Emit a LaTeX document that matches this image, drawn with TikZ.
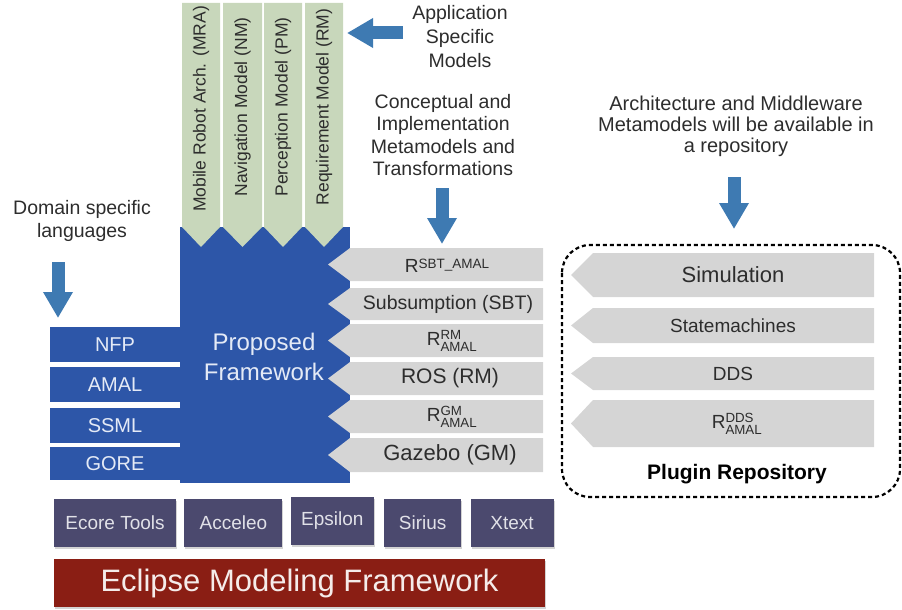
\documentclass[tikz,border=0pt]{standalone}
\usepackage{xcolor}
\usepackage{tikz}
\usepackage{amsmath}
\usepackage{fontspec}
\setmainfont{Liberation Sans}
\usetikzlibrary{arrows.meta, shadows, positioning}

\definecolor{frameblue}{RGB}{45,86,168}
\definecolor{framefont}{RGB}{228,234,246}
\definecolor{modelgreen}{RGB}{200,215,187}
\definecolor{metagrey}{RGB}{213,213,213}
\definecolor{arrowblue}{RGB}{62,122,178}
\definecolor{toolslate}{RGB}{75,73,110}
\definecolor{toolfont}{RGB}{225,225,232}
\definecolor{emfred}{RGB}{138,30,20}
\definecolor{emffont}{RGB}{245,236,234}
\definecolor{inkgrey}{RGB}{45,45,45}

\begin{document}
\begin{tikzpicture}[x=1pt, y=-1pt,
        annot/.style = {align=center, text=inkgrey, font=\fontsize{19.5}{22.5}\selectfont},
        bigarrow/.style = {draw=arrowblue, line width=13pt, -{Triangle[width=28pt, length=26pt]}},
        column/.style = {fill=modelgreen},
        coltext/.style = {rotate=90, text=inkgrey, font=\fontsize{17.5}{20}\selectfont},
        langbox/.style = {fill=frameblue, text=framefont, minimum width=130pt, inner sep=0pt, font=\fontsize{20}{24}\selectfont},
        metaarrow/.style = {fill=metagrey},
        metatext/.style = {text=inkgrey, inner sep=0pt},
        toolbox/.style = {fill=toolslate, text=toolfont, minimum height=48pt, inner sep=0pt, font=\fontsize{19}{22}\selectfont,
            drop shadow={opacity=0.35, shadow xshift=1pt, shadow yshift=-1.5pt}}
    ]

    \useasboundingbox (0,0) rectangle (902,610);

    % annotations
    \node[annot, font=\fontsize{19.5}{24}\selectfont] (appnote) at (460,37) {Application\\Specific\\Models};
    \node[annot] (concnote) at (443,135) {Conceptual and\\Implementation\\Metamodels and\\Transformations};
    \node[annot, font=\fontsize{20}{21}\selectfont] (repnote) at (736,126) {Architecture and Middleware\\Metamodels will be available in\\a repository};
    \node[annot] (dslnote) at (82,221) {Domain specific\\languages};

    \coordinate (appA) at (403,33);
    \coordinate (appB) at (347,33);
    \coordinate (concA) at (442,188);
    \coordinate (concB) at (442,244);
    \coordinate (repA) at (734,177);
    \coordinate (repB) at (734,229);
    \coordinate (dslA) at (58,262);
    \coordinate (dslB) at (58,318);
    \draw[bigarrow] (appA) -- (appB);
    \draw[bigarrow] (concA) -- (concB);
    \draw[bigarrow] (repA) -- (repB);
    \draw[bigarrow] (dslA) -- (dslB);

    % proposed framework
    \fill[frameblue] (180,227) rectangle (350,483);
    \node[text=framefont, align=center, font=\fontsize{24}{30}\selectfont] (frame) at (264,357) {Proposed\\Framework};

    \node[langbox, minimum height=35pt] (nfp) at (115,344.5) {NFP};
    \node[langbox, minimum height=35pt, below=5pt of nfp] (amal) {AMAL};
    \node[langbox, minimum height=35pt, below=5pt of amal] (ssml) {SSML};
    \node[langbox, minimum height=33pt, below=4pt of ssml] (gore) {GORE};

    % application specific models
    \fill[column] (182,3) -- (220,3) -- (220,227) -- (201,247) -- (182,227) -- cycle;
    \fill[column] (223,3) -- (262,3) -- (262,227) -- (242.5,247) -- (223,227) -- cycle;
    \fill[column] (264,3) -- (302,3) -- (302,227) -- (283,247) -- (264,227) -- cycle;
    \fill[column] (305,3) -- (343,3) -- (343,227) -- (324,247) -- (305,227) -- cycle;
    \node[coltext] (mra) at (201,109) {Mobile Robot Arch. (MRA)};
    \node[coltext] (nm) at (242.5,107) {Navigation Model (NM)};
    \node[coltext] (pm) at (283,107) {Perception Model (PM)};
    \node[coltext] (rm) at (324,107) {Requirement Model (RM)};

    % metamodels and transformations
    \fill[metaarrow] (350,248) -- (543,248) -- (543,281) -- (350,281) -- (328,264.5) -- cycle;
    \fill[metaarrow] (350,288) -- (543,288) -- (543,320) -- (350,320) -- (328,304) -- cycle;
    \fill[metaarrow] (350,324) -- (543,324) -- (543,357) -- (350,357) -- (328,340.5) -- cycle;
    \fill[metaarrow] (350,362) -- (543,362) -- (543,395) -- (350,395) -- (328,378.5) -- cycle;
    \fill[metaarrow] (350,400) -- (543,400) -- (543,433) -- (350,433) -- (328,416.5) -- cycle;
    \fill[metaarrow] (350,438) -- (543,438) -- (543,472) -- (350,472) -- (328,455) -- cycle;
    \node[metatext, font=\fontsize{19}{22}\selectfont] (rsbt) at (447,266) {R\raisebox{4.5pt}{\fontsize{13.5}{15}\selectfont SBT\_AMAL}};
    \node[metatext, font=\fontsize{19.5}{22}\selectfont] (sbt) at (448,304) {Subsumption (SBT)};
    \node[metatext, font=\fontsize{19}{22}\selectfont] (rrm) at (452,340.5) {R$^{\text{RM}}_{\text{AMAL}}$};
    \node[metatext, font=\fontsize{21}{24}\selectfont] (ros) at (450,378.5) {ROS (RM)};
    \node[metatext, font=\fontsize{19}{22}\selectfont] (rgm) at (452,416.5) {R$^{\text{GM}}_{\text{AMAL}}$};
    \node[metatext, font=\fontsize{22}{24}\selectfont] (gazebo) at (450,455) {Gazebo (GM)};

    % plugin repository
    \draw[line width=2.2pt, dash pattern=on 4pt off 3pt, rounded corners=28pt] (562,245) rectangle (900,497);
    \fill[metaarrow] (593,253) -- (874,253) -- (874,297) -- (593,297) -- (571,275) -- cycle;
    \fill[metaarrow] (593,308) -- (874,308) -- (874,343) -- (593,343) -- (571,325.5) -- cycle;
    \fill[metaarrow] (593,357) -- (874,357) -- (874,390) -- (593,390) -- (571,373.5) -- cycle;
    \fill[metaarrow] (593,400) -- (874,400) -- (874,447) -- (593,447) -- (571,423.5) -- cycle;
    \node[metatext, font=\fontsize{22}{24}\selectfont] (sim) at (733,275) {Simulation};
    \node[metatext, font=\fontsize{19}{22}\selectfont] (stm) at (733,325.5) {Statemachines};
    \node[metatext, font=\fontsize{19}{22}\selectfont] (dds) at (733,373.5) {DDS};
    \node[metatext, font=\fontsize{19}{22}\selectfont] (rdds) at (737,423.5) {R$^{\text{DDS}}_{\text{AMAL}}$};
    \node[font=\bfseries\fontsize{21}{24}\selectfont] (plugin) at (737,474) {Plugin Repository};

    % tools and EMF
    \node[toolbox, minimum width=122pt] (ecore) at (115,523) {Ecore Tools};
    \node[toolbox, minimum width=98pt, right=8pt of ecore] (acceleo) {Acceleo};
    \node[toolbox, minimum width=83pt, right=8pt of acceleo, yshift=2pt] (epsilon) {Epsilon};
    \node[toolbox, minimum width=77pt, right=10pt of epsilon, yshift=-2pt] (sirius) {Sirius};
    \node[toolbox, minimum width=83pt, right=9pt of sirius] (xtext) {Xtext};
    \node[fill=emfred, text=emffont, minimum width=491pt, minimum height=48pt, inner sep=0pt,
        font=\fontsize{31}{36}\selectfont, drop shadow={opacity=0.35, shadow xshift=1pt, shadow yshift=-1.5pt}] (emf) at (299.5,583) {Eclipse Modeling Framework};

\end{tikzpicture}
\end{document}
